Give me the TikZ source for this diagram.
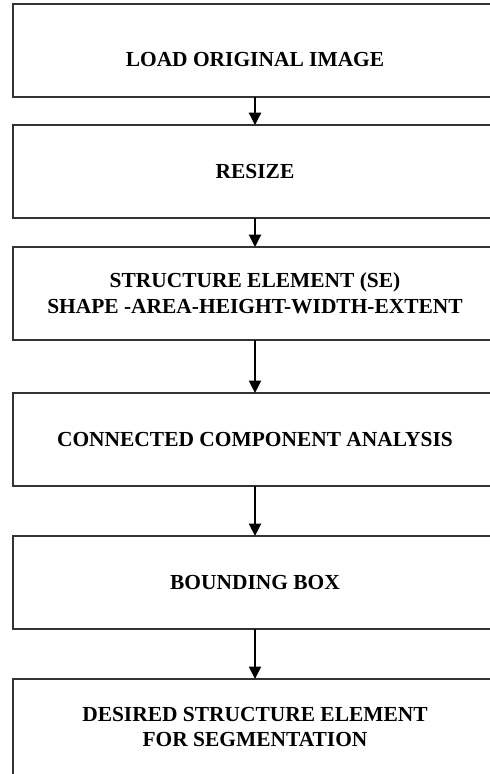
\documentclass[tikz,border=0pt]{standalone}
\usepackage{fontspec}
\setmainfont{Liberation Serif}
\usetikzlibrary{arrows.meta, positioning}
\tikzstyle{block} = [rectangle, draw=black!80, line width=1pt, align=center, minimum width=9.68cm, minimum height=1.86cm, inner sep=0pt, outer sep=0pt, font=\fontsize{12.2}{14.5}\selectfont\bfseries]
\tikzstyle{line} = [draw, line width=0.7pt, -{Triangle[length=7pt,width=7pt]}]

\begin{document}
\begin{tikzpicture}[x=0.02cm, y=-0.02cm]
        \useasboundingbox (0,0) rectangle (490,774);
        \clip (0,0) rectangle (490,774);
        % Nodos
        \node [block, text height=0.65cm, text depth=0pt] (load) at (255,50.5) {LOAD ORIGINAL IMAGE};
        \node [block, below=0.56cm of load] (resize) {RESIZE};
        \node [block, below=0.58cm of resize] (se) {STRUCTURE ELEMENT (SE)\\SHAPE -AREA-HEIGHT-WIDTH-EXTENT};
        \node [block, below=1.06cm of se] (cca) {CONNECTED COMPONENT ANALYSIS};
        \node [block, below=1cm of cca] (bbox) {BOUNDING BOX};
        \node [block, below=1cm of bbox, minimum height=1.92cm] (desired) {DESIRED STRUCTURE ELEMENT\\FOR SEGMENTATION};

        % Líneas
        \path [line] (load) -- (resize);
        \path [line] (resize) -- (se);
        \path [line] (se) -- (cca);
        \path [line] (cca) -- (bbox);
        \path [line] (bbox) -- (desired);
    \end{tikzpicture}
\end{document}
